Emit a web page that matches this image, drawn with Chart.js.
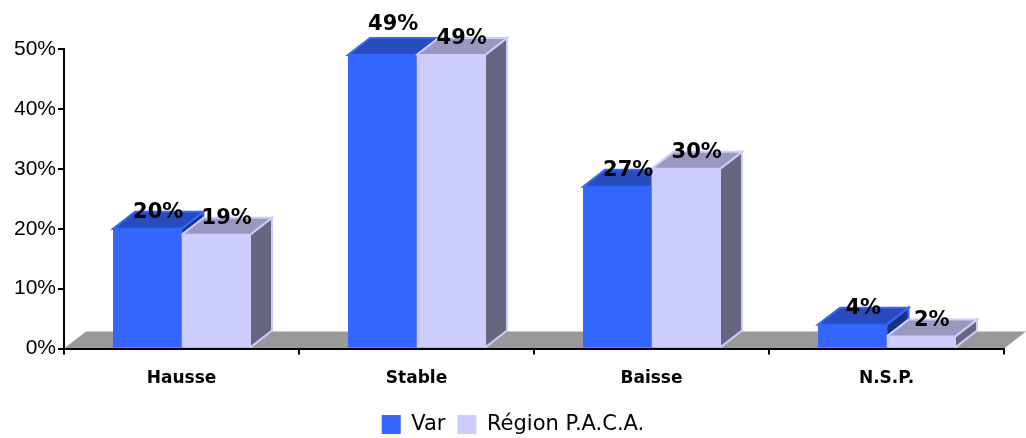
<!DOCTYPE html>
<html>
<head>
<meta charset="utf-8">
<style>
  html, body { margin: 0; padding: 0; background: #fff; }
  #wrap { width: 1026px; height: 438px; }
</style>
<script src="https://cdn.jsdelivr.net/npm/chart.js@4/dist/chart.umd.min.js"></script>
</head>
<body>
<div id="wrap"><canvas id="chart"></canvas></div>
<script>
const categories = ["Hausse", "Stable", "Baisse", "N.S.P."];
const varValues = [20, 49, 27, 4];
const pacaValues = [19, 49, 30, 2];

const depthX = 22;
const depthY = 17;
const faces = [
  { front: "#3366ff", top: "#264cbf", side: "#19337f" },
  { front: "#ccccff", top: "#9999bf", side: "#666680" }
];

function face(ctx, points, fill, stroke) {
  ctx.beginPath();
  points.forEach((p, i) => i ? ctx.lineTo(p[0], p[1]) : ctx.moveTo(p[0], p[1]));
  ctx.closePath();
  ctx.fillStyle = fill;
  ctx.fill();
  if (stroke) {
    ctx.strokeStyle = stroke;
    ctx.lineWidth = 2;
    ctx.stroke();
  }
}

// the grey floor sits behind the axes
const floorPlugin = {
  id: "floor",
  afterLayout(chart) {
    // legend is centred on the whole page, lower than the layout puts it
    chart.legend.left += 11;
    chart.legend.right += 11;
    chart.legend.top += 8;
    chart.legend.bottom += 8;
  },
  beforeDraw(chart) {
    const { left, right } = chart.chartArea;
    const y0 = chart.scales.y.getPixelForValue(0);
    face(chart.ctx, [
      [left, y0], [left + depthX, y0 - depthY],
      [right + depthX, y0 - depthY], [right, y0]
    ], "#999999");
  }
};

// top and side faces go behind the fronts that Chart.js draws
const depthPlugin = {
  id: "depth",
  beforeDatasetsDraw(chart) {
    const ctx = chart.ctx;
    categories.forEach((c, i) => {
      [0, 1].forEach(d => {
        const bar = chart.getDatasetMeta(d).data[i];
        const l = bar.x - bar.width / 2;
        const r = bar.x + bar.width / 2;
        const t = bar.y;
        const b = bar.base;
        const f = faces[d];
        face(ctx, [[r, t], [r + depthX, t - depthY], [r + depthX, b - depthY], [r, b]], f.side, f.front);
        face(ctx, [[l, t], [l + depthX, t - depthY], [r + depthX, t - depthY], [r, t]], f.top, f.front);
      });
    });
  },
  afterDatasetsDraw(chart) {
    const ctx = chart.ctx;
    ctx.save();
    ctx.font = "bold 21px 'DejaVu Sans'";
    ctx.fillStyle = "#000";
    ctx.textAlign = "center";
    ctx.textBaseline = "middle";
    chart.data.datasets.forEach((ds, d) => {
      chart.getDatasetMeta(d).data.forEach((bar, i) => {
        // the Var label on Stable was pulled up in the original
        const lift = (d === 0 && i === 1) ? 30 : 16;
        ctx.fillText(ds.data[i] + "%", bar.x + depthX / 2, bar.y - lift);
      });
    });
    ctx.restore();
  }
};

new Chart(document.getElementById("chart"), {
  type: "bar",
  data: {
    labels: categories,
    datasets: [
      { label: "Var", data: varValues, backgroundColor: faces[0].front, borderWidth: 0 },
      { label: "Région P.A.C.A.", data: pacaValues, backgroundColor: faces[1].front, borderWidth: 0 }
    ]
  },
  options: {
    responsive: true,
    maintainAspectRatio: false,
    animation: false,
    categoryPercentage: 0.583,
    barPercentage: 1,
    layout: { padding: { top: 49, right: 22, left: 0, bottom: 1 } },
    plugins: {
      title: { display: false },
      tooltip: { enabled: false },
      legend: {
        position: "bottom",
        labels: {
          boxWidth: 19,
          boxHeight: 19,
          padding: 12,
          color: "#000",
          font: { family: "'DejaVu Sans'", size: 21 }
        }
      }
    },
    scales: {
      x: {
        afterFit(scale) { scale.height -= 9; },
        grid: { drawOnChartArea: false, color: "#000", lineWidth: 2, tickLength: 6 },
        border: { color: "#000", width: 2, z: 1 },
        ticks: {
          color: "#000",
          padding: 14,
          maxRotation: 0,
          font: { family: "'DejaVu Sans'", size: 17, weight: "bold" }
        }
      },
      y: {
        min: 0,
        max: 50,
        afterFit(scale) { scale.width = 64; },
        grid: { drawOnChartArea: false, color: "#000", lineWidth: 2, tickLength: 6 },
        border: { color: "#000", width: 2, z: 1 },
        ticks: {
          stepSize: 10,
          color: "#000",
          padding: 2,
          font: { family: "'Liberation Sans'", size: 21 },
          callback: v => v + "%"
        }
      }
    }
  },
  plugins: [floorPlugin, depthPlugin]
});
</script>
</body>
</html>
